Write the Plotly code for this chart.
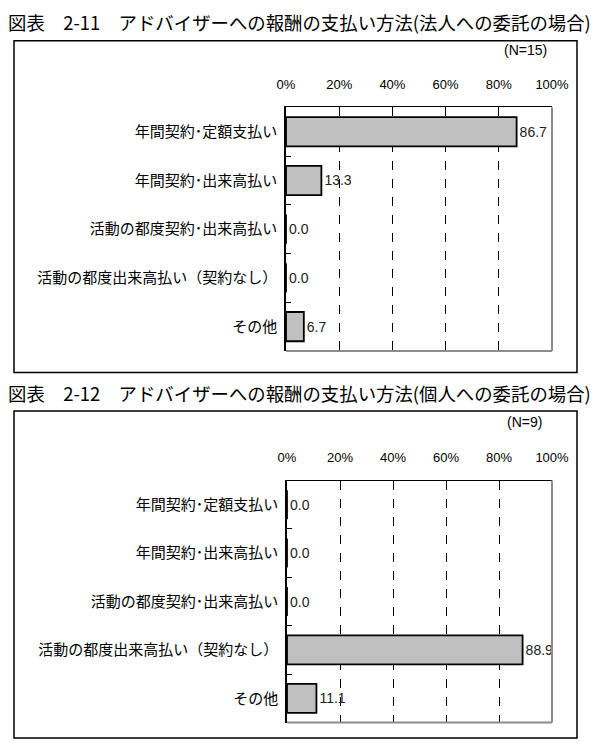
import plotly.graph_objects as go

# page body has an 8px margin, so the figure is placed 8px in from the window edge
OFF = 8
W, H = 592, 737

categories = ["年間契約･定額支払い", "年間契約･出来高払い", "活動の都度契約･出来高払い",
              "活動の都度出来高払い（契約なし）", "その他"]
corp_values = [86.7, 13.3, 0.0, 0.0, 6.7]
indiv_values = [0.0, 0.0, 0.0, 88.9, 11.1]
tick_vals = [0, 20, 40, 60, 80, 100]
tick_text = ["0%", "20%", "40%", "60%", "80%", "100%"]
titles = ["図表　2-11　アドバイザーへの報酬の支払い方法(法人への委託の場合)",
          "図表　2-12　アドバイザーへの報酬の支払い方法(個人への委託の場合)"]
n_labels = ["(N=15)", "(N=9)"]

JP = "Noto Sans CJK JP"
NUM = "Liberation Sans Narrow, Liberation Sans, Arial"


def px_x(v):
    return (v - OFF) / W


def px_y(v):
    return 1 - (v - OFF) / H


fig = go.Figure()

# window-pixel layout of the two panels
panels = [
    dict(box=(40.7, 372.5), plot=(107.3, 351.0), x=(286, 552), title_y=22, n_y=50, n_x=549),
    dict(box=(411.0, 738.0), plot=(480.5, 722.5), x=(287, 552), title_y=393, n_y=422, n_x=544),
]
series = [corp_values, indiv_values]

for i, (p, vals) in enumerate(zip(panels, series)):
    xa = "x" if i == 0 else "x2"
    ya = "y" if i == 0 else "y2"
    fig.add_trace(go.Bar(
        x=vals, y=categories, orientation="h",
        xaxis=xa, yaxis=ya,
        marker=dict(color="#c0c0c0", line=dict(color="black", width=1.8)),
        width=0.6,
        text=vals, texttemplate="%{x:.1f}", textposition="outside",
        textfont=dict(family=NUM, size=14, color="#222222"),
        cliponaxis=False, showlegend=False, hoverinfo="skip",
    ))

    axis_x = dict(
        domain=[px_x(p["x"][0]), px_x(p["x"][1])],
        range=[0, 100], side="top",
        tickvals=tick_vals, ticktext=tick_text,
        ticks="inside", ticklen=5, tickcolor="black", tickwidth=1,
        tickfont=dict(family=NUM, size=13, color="black"),
        ticklabelstandoff=12,
        showgrid=True, gridcolor="black", griddash="dash", gridwidth=1,
        showline=True, linecolor="black", linewidth=1,
        zeroline=False, anchor=ya, fixedrange=True, automargin=False,
    )
    axis_y = dict(
        domain=[px_y(p["plot"][1]), px_y(p["plot"][0])],
        autorange="reversed", type="category",
        ticks="inside", tickson="boundaries", ticklen=5, tickcolor="black",
        tickfont=dict(family=JP, size=15, color="black"),
        ticklabelstandoff=4,
        showline=True, linecolor="black", linewidth=1.5,
        showgrid=False, anchor=xa, fixedrange=True, automargin=False,
    )
    if i == 0:
        fig.update_layout(xaxis=axis_x, yaxis=axis_y)
    else:
        fig.update_layout(xaxis2=axis_x, yaxis2=axis_y)

    # gray right/bottom border of the plot area
    x0, x1 = px_x(p["x"][0]), px_x(p["x"][1])
    yt, yb = px_y(p["plot"][0]), px_y(p["plot"][1])
    fig.add_shape(type="line", xref="paper", yref="paper", x0=x1, x1=x1, y0=yb, y1=yt,
                  line=dict(color="#8c8c8c", width=2))
    fig.add_shape(type="line", xref="paper", yref="paper", x0=x0, x1=x1, y0=yb, y1=yb,
                  line=dict(color="#8c8c8c", width=2))
    # outer frame
    fig.add_shape(type="rect", xref="paper", yref="paper",
                  x0=px_x(14), x1=px_x(577), y0=px_y(p["box"][1]), y1=px_y(p["box"][0]),
                  line=dict(color="black", width=1.5))

    fig.add_annotation(text=titles[i], xref="paper", yref="paper",
                       x=px_x(6), y=px_y(p["title_y"]), xanchor="left", yanchor="middle",
                       showarrow=False, font=dict(family=JP, size=18.4, color="black"))
    fig.add_annotation(text=n_labels[i], xref="paper", yref="paper",
                       x=px_x(p["n_x"]), y=px_y(p["n_y"]), xanchor="right", yanchor="middle",
                       showarrow=False, font=dict(family=NUM, size=14, color="black"))

fig.update_layout(
    width=W, height=H,
    margin=dict(l=0, r=0, t=0, b=0, autoexpand=False),
    paper_bgcolor="white", plot_bgcolor="white",
    bargap=0.4,
)

fig.write_html("out.html")
